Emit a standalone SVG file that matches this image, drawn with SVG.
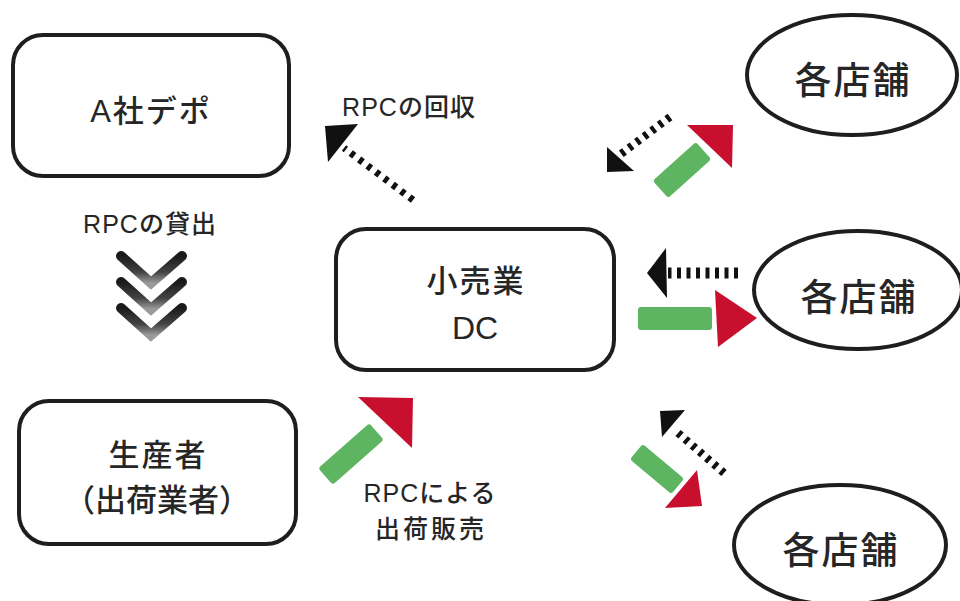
<svg xmlns="http://www.w3.org/2000/svg" width="960" height="601" viewBox="0 0 960 601">
<defs>
<style>
.box{fill:#fff;stroke:#1e1e1e;stroke-width:4}
.t{font-family:"Liberation Sans","Noto Sans CJK JP",sans-serif;fill:#262626;text-anchor:middle;font-weight:500}
.big{font-size:31px;letter-spacing:2px}
.shop{font-size:37px;letter-spacing:2px}
.lbl{font-size:25px;letter-spacing:1px}
.dot{stroke:#111;fill:none;stroke-width:9;stroke-dasharray:4 5.5}
.head{fill:#111}
.green{fill:#5db461}
.red{fill:#c8102e}
.chev{fill:none;stroke:url(#cg);stroke-width:10;stroke-linecap:round;stroke-linejoin:miter}
</style>
<linearGradient id="cg" x1="0" y1="0" x2="0" y2="1">
<stop offset="0" stop-color="#1a1a1a"/>
<stop offset="0.6" stop-color="#444"/>
<stop offset="1" stop-color="#9a9a9a"/>
</linearGradient>
</defs>

<g id="depot">
<rect class="box" x="13" y="35" width="276" height="141" rx="30"/>
<text class="t big" x="151" y="122">A社デポ</text>
</g>

<g id="dc">
<rect class="box" x="336" y="229" width="278" height="141" rx="30"/>
<text class="t big" x="476" y="292">小売業</text>
<text class="t big" x="475" y="339" style="font-size:32px;letter-spacing:0">DC</text>
</g>

<g id="producer">
<rect class="box" x="19" y="401" width="277" height="143" rx="30"/>
<text class="t big" x="158" y="466">生産者</text>
<text class="t big" x="157" y="511" style="letter-spacing:0">（出荷業者）</text>
</g>

<g id="shop1">
<ellipse class="box" cx="852" cy="75" rx="105" ry="60"/>
<text class="t shop" x="853" y="94">各店舗</text>
</g>

<g id="shop2">
<ellipse class="box" cx="858" cy="290" rx="104" ry="59"/>
<text class="t shop" x="859" y="311">各店舗</text>
</g>

<g id="shop3">
<ellipse class="box" cx="840" cy="545" rx="106" ry="60"/>
<text class="t shop" x="841" y="564">各店舗</text>
</g>

<g id="labels">
<text class="t lbl" x="409" y="116">RPCの回収</text>
<text class="t lbl" x="150" y="233">RPCの貸出</text>
<text class="t lbl" x="430" y="502">RPCによる</text>
<text class="t lbl" x="431" y="538" style="letter-spacing:3px">出荷販売</text>
</g>

<g id="connectors">
<!-- chevrons: lending -->
<polyline class="chev" points="121,256 151,283 182,256"/>
<polyline class="chev" points="121,282 151,309 182,282"/>
<polyline class="chev" points="121,308 151,335 182,308"/>

<!-- RPC collection -->
<line class="dot" x1="413" y1="200" x2="344" y2="148" style="stroke-width:7;stroke-dasharray:4.5 6"/>
<polygon class="head" points="358,124 325,126 328,162"/>

<!-- producer to DC -->
<rect class="green" x="317" y="443" width="68" height="22" rx="3" transform="rotate(-41.4 351 454)"/>
<polygon class="red" points="358,397 413,398 412,448"/>

<!-- DC <-> shop1 -->
<line class="dot" x1="670" y1="117" x2="621" y2="154" style="stroke-width:8"/>
<polygon class="head" points="607,147 607,172 634,171"/>
<rect class="green" x="653" y="158.5" width="58" height="23" rx="3" transform="rotate(-42 682 170)"/>
<polygon class="red" points="687,125 733,125 732,168"/>

<!-- DC <-> shop2 -->
<line class="dot" x1="738" y1="273" x2="668" y2="273" style="stroke-width:11"/>
<polygon class="head" points="666,248 647,273 667,298"/>
<rect class="green" x="638" y="307" width="74" height="23" rx="3"/>
<polygon class="red" points="715,290 757,318 718,347"/>

<!-- DC <-> shop3 -->
<line class="dot" x1="724" y1="473" x2="677" y2="432" style="stroke-width:8"/>
<polygon class="head" points="660,411 685,410 662,437"/>
<rect class="green" x="630" y="459" width="54" height="20" rx="3" transform="rotate(40 657 469)"/>
<polygon class="red" points="665,508 697,470 702,506"/>
</g>
</svg>
